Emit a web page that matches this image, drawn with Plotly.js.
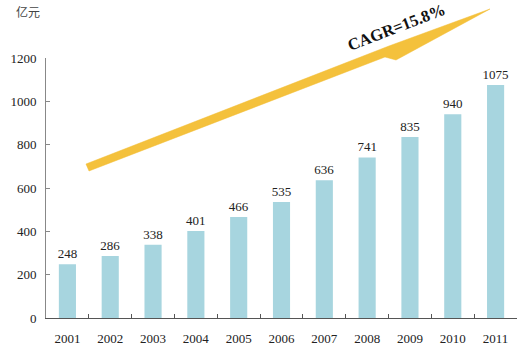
<!DOCTYPE html>
<html>
<head>
<meta charset="utf-8">
<script src="https://cdn.plot.ly/plotly-3.0.1.min.js"></script>
<style>html,body{margin:0;padding:0;background:#fff;}#chart{width:524px;height:356px;}</style>
</head>
<body>
<div id="chart"></div>
<script>
const years = ["2001","2002","2003","2004","2005","2006","2007","2008","2009","2010","2011"];
const values = [248, 286, 338, 401, 466, 535, 636, 741, 835, 940, 1075];
const yTicks = [0, 200, 400, 600, 800, 1000, 1200];
const unitLabel = "亿元";
const cagrLabel = "CAGR=15.8%";

const W = 524, H = 356;
const M = {l: 46, r: 7, t: 58, b: 38};
const PW = W - M.l - M.r, PH = H - M.t - M.b;
const px = x => (x - M.l) / PW;
const py = y => (H - M.b - y) / PH;

// decorative arrow outline (pixel space -> paper space)
const arrowPts = [[86,164],[389,46],[490,9],[396,60],[385,57],[89,171]];
const path = arrowPts.map((p,i)=> (i?'L':'M') + px(p[0]).toFixed(4) + ',' + py(p[1]).toFixed(4)).join(' ') + ' Z';

const serif = "Liberation Serif, Times New Roman, serif";

const trace = {
  type: 'bar',
  x: years,
  y: values,
  text: values.map(String),
  textposition: 'outside',
  constraintext: 'none',
  textfont: {family: serif, size: 13, color: '#222'},
  marker: {color: '#a7d5df', line: {width: 0}},
  cliponaxis: false,
  hoverinfo: 'none'
};

const layout = {
  width: W, height: H,
  margin: M,
  paper_bgcolor: '#fff', plot_bgcolor: '#fff',
  showlegend: false,
  bargap: 0.6,
  font: {family: serif, size: 13, color: '#222'},
  xaxis: {
    type: 'category',
    showgrid: false, zeroline: false,
    showline: true, linecolor: '#555', linewidth: 1,
    ticks: 'inside', tickson: 'boundaries', ticklen: 4, tickcolor: '#555',
    tickfont: {family: serif, size: 13, color: '#222'},
    ticklabelstandoff: 8
  },
  yaxis: {
    range: [0, 1200],
    tickvals: yTicks,
    showgrid: false, zeroline: false,
    showline: true, linecolor: '#888', linewidth: 1,
    ticks: 'inside', ticklen: 4, tickcolor: '#888',
    tickfont: {family: serif, size: 13, color: '#222'},
    ticklabelstandoff: 6
  },
  shapes: [{
    type: 'path', xref: 'paper', yref: 'paper', path: path,
    fillcolor: '#f4c13c', line: {color: '#f2bd35', width: 0.5}, layer: 'above'
  }],
  annotations: [
    {text: unitLabel, xref: 'paper', yref: 'paper', x: px(14), y: py(12), xanchor: 'left', yanchor: 'middle',
     showarrow: false, font: {family: 'Noto Sans CJK SC', size: 12, color: '#444'}},
    {text: '<b>' + cagrLabel + '</b>', xref: 'paper', yref: 'paper', x: px(396), y: py(28), xanchor: 'center', yanchor: 'middle',
     showarrow: false, textangle: -21, font: {family: serif, size: 16.5, color: '#111'}}
  ]
};

Plotly.newPlot('chart', [trace], layout, {displayModeBar: false, staticPlot: true});
</script>
</body>
</html>
